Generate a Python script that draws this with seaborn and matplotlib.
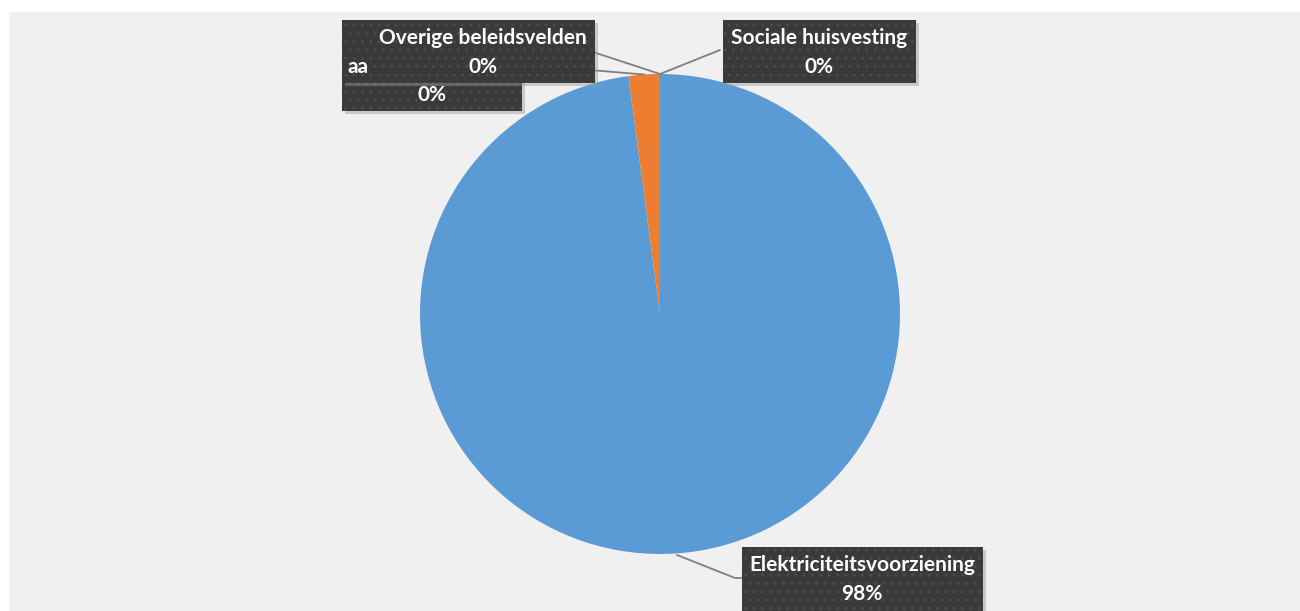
import numpy as np
import matplotlib
matplotlib.use("Agg")
import matplotlib.pyplot as plt
from matplotlib.patches import Rectangle
import seaborn as sns

# ---- data ----
categories = ["Elektriciteitsvoorziening", "aa", "Overige beleidsvelden", "Sociale huisvesting"]
values = [97.9, 2.1, 0.0, 0.0]
pct_labels = ["98%", "0%", "0%", "0%"]

sns.set_style("white")
plt.rcParams['font.family'] = ['Lato', 'DejaVu Sans']

colors = ["#5B9BD5", "#ED7D31", "#A5A5A5", "#FFC000"]

W, H = 1300, 611
fig = plt.figure(figsize=(W / 100, H / 100), dpi=100)
fig.patch.set_facecolor("white")
ax = fig.add_axes([0, 0, 1, 1])
ax.set_xlim(0, W)
ax.set_ylim(0, H)
ax.set_aspect("equal")
ax.axis("off")

def Y(y):
    return H - y

# chart panel background
ax.add_patch(Rectangle((9, 0), W - 9, H - 12, facecolor="#F0F0F0", edgecolor="none", zorder=0))

cx, cy, r = 660, Y(314), 240
wedges, _ = ax.pie(values, colors=colors, startangle=90, counterclock=False,
                   center=(cx, cy), radius=r, frame=True,
                   wedgeprops=dict(edgecolor="none", zorder=2))
ax.set_xlim(0, W)
ax.set_ylim(0, H)
ax.axis("off")

def wedge_point(w, frac=1.0):
    ang = np.deg2rad((w.theta1 + w.theta2) / 2)
    return cx + r * frac * np.cos(ang), cy + r * frac * np.sin(ang)

def box(x0, y0, x1, y1, z=5):
    # shadow
    ax.add_patch(Rectangle((x0 + 3, Y(y1) - 3), x1 - x0, y1 - y0, facecolor="#9a9a9a",
                           alpha=0.45, edgecolor="none", zorder=z - 0.5))
    ax.add_patch(Rectangle((x0, Y(y1)), x1 - x0, y1 - y0, facecolor="#3A3A3A",
                           edgecolor="none", zorder=z))
    ax.add_patch(Rectangle((x0, Y(y1)), x1 - x0, y1 - y0, facecolor="none",
                           edgecolor="#4a4a4a", hatch="..", linewidth=0, zorder=z + 0.1))

txt = dict(color="white", fontsize=15, fontweight="bold", va="center", zorder=10)

# leader lines
lc = dict(color="#7F7F7F", lw=1.3, zorder=3)
# Elektriciteitsvoorziening
ax.plot([677, 735, 742], [Y(555), Y(578), Y(578)], **lc)
# aa -> orange wedge
px, py = wedge_point(wedges[1])
ax.plot([590, px], [Y(70), py], **lc)
# Overige beleidsvelden -> top
px, py = wedge_point(wedges[2])
ax.plot([590, px], [Y(51), py], **lc)
# Sociale huisvesting -> top
px, py = wedge_point(wedges[3])
ax.plot([720, px], [Y(50), py], **lc)

# label boxes
box(342, 50, 522, 111, z=5)      # aa
box(342, 20, 595, 83, z=6)       # Overige beleidsvelden
box(723, 20, 916, 83, z=6)       # Sociale huisvesting
box(742, 547, 983, 640, z=6)     # Elektriciteitsvoorziening

# texts
ax.text(432, Y(95), pct_labels[1], ha="center", **txt)
ax.text(347, Y(67), categories[1], ha="left", **txt)
ax.text(483, Y(38), categories[2], ha="center", **txt)
ax.text(483, Y(67), pct_labels[2], ha="center", **txt)
ax.text(819, Y(38), categories[3], ha="center", **txt)
ax.text(819, Y(67), pct_labels[3], ha="center", **txt)
ax.text(862, Y(565), categories[0], ha="center", **txt)
ax.text(862, Y(594), pct_labels[0], ha="center", **txt)

fig.savefig("out.png", dpi=100, facecolor="white")
